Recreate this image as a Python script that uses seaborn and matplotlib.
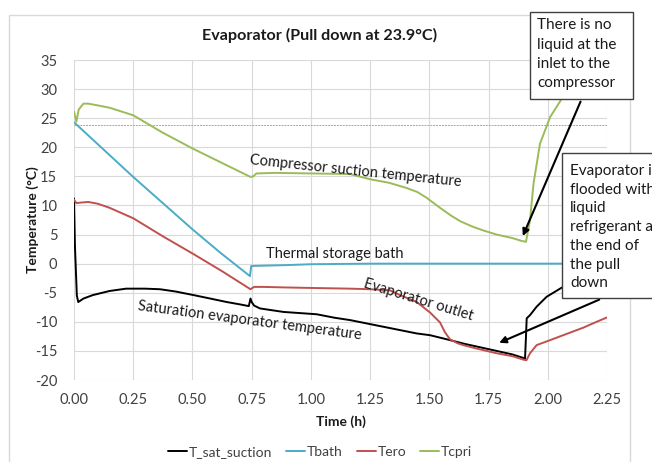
import numpy as np
import pandas as pd
import matplotlib
matplotlib.use("Agg")
import matplotlib.pyplot as plt
from matplotlib.patches import Rectangle
import seaborn as sns

# ---------------- data ----------------
t_sat = [0.0, 0.004, 0.012, 0.018, 0.04, 0.08, 0.15, 0.22, 0.30, 0.363, 0.43, 0.504,
         0.575, 0.645, 0.70, 0.738, 0.745, 0.75, 0.76, 0.785, 0.884, 1.024, 1.10, 1.165,
         1.306, 1.447, 1.503, 1.573, 1.65, 1.784, 1.85, 1.904, 1.908, 1.911, 1.925,
         1.953, 1.995, 2.06, 2.15, 2.25]
v_sat = [11.2, 3.0, -5.5, -6.6, -6.0, -5.4, -4.7, -4.3, -4.3, -4.4, -4.8, -5.4,
         -6.0, -6.6, -7.0, -7.3, -6.0, -6.6, -7.2, -7.7, -8.3, -8.7, -9.3, -9.7,
         -10.85, -12.0, -12.3, -13.0, -13.8, -15.0, -15.6, -16.3, -12.5, -9.4, -8.85,
         -7.4, -5.7, -4.1, -3.0, -2.0]

t_bath = [0.0, 0.125, 0.25, 0.375, 0.5, 0.62, 0.743, 0.748, 0.80, 0.90, 1.0, 1.25,
          1.5, 1.75, 2.0, 2.25]
v_bath = [24.3, 19.6, 14.9, 10.4, 5.9, 1.8, -2.15, -0.4, -0.35, -0.25, -0.1, 0.0,
          0.0, 0.0, 0.0, 0.0]

t_ero = [0.0, 0.01, 0.03, 0.06, 0.10, 0.15, 0.25, 0.375, 0.5, 0.625, 0.745, 0.76,
         0.80, 0.9, 1.03, 1.165, 1.25, 1.334, 1.376, 1.447, 1.503, 1.545, 1.566, 1.587,
         1.62, 1.643, 1.70, 1.784, 1.85, 1.897, 1.91, 1.925, 1.953, 2.0, 2.065, 2.15,
         2.206, 2.25]
v_ero = [11.0, 10.4, 10.5, 10.6, 10.3, 9.6, 7.8, 4.7, 1.75, -1.3, -4.4, -4.0,
         -4.0, -4.1, -4.2, -4.3, -4.4, -4.6, -5.4, -6.6, -8.4, -10.1, -11.8, -13.0,
         -13.7, -14.0, -14.6, -15.4, -15.9, -16.5, -16.6, -15.4, -14.0, -13.3, -12.3, -11.0,
         -10.0, -9.25]

t_cpri = [0.0, 0.01, 0.02, 0.04, 0.06, 0.10, 0.15, 0.25, 0.375, 0.5, 0.625, 0.70,
          0.745, 0.757, 0.77, 0.85, 1.0, 1.165, 1.25, 1.33, 1.404, 1.45, 1.489, 1.545,
          1.59, 1.63, 1.68, 1.728, 1.784, 1.85, 1.89, 1.908, 1.925, 1.94, 1.967, 2.01,
          2.06, 2.15, 2.25]
v_cpri = [26.1, 24.4, 26.5, 27.5, 27.5, 27.2, 26.8, 25.5, 22.5, 19.8, 17.3, 15.8,
          14.9, 15.0, 15.5, 15.6, 15.5, 15.4, 14.5, 13.9, 13.0, 12.3, 11.3, 9.6,
          8.3, 7.3, 6.4, 5.7, 5.0, 4.4, 3.9, 3.75, 7.5, 13.8, 20.6, 25.2,
          28.4, 31.5, 33.0]

series_names = ["T_sat_suction", "Tbath", "Tero", "Tcpri"]
series_colors = ["#000000", "#4BACC6", "#C0504D", "#9BBB59"]
pull_down_temp = 23.9

x_ticks = [0.0, 0.25, 0.5, 0.75, 1.0, 1.25, 1.5, 1.75, 2.0, 2.25]
y_ticks = [-20, -15, -10, -5, 0, 5, 10, 15, 20, 25, 30, 35]

frames = []
for name, t, v in zip(series_names, [t_sat, t_bath, t_ero, t_cpri],
                      [v_sat, v_bath, v_ero, v_cpri]):
    frames.append(pd.DataFrame({"Time (h)": t, "Temperature": v, "series": name}))
df = pd.concat(frames, ignore_index=True)

# ---------------- style ----------------
sns.set_theme(style="whitegrid")
FONT = ["Lato", "DejaVu Sans"]
plt.rcParams["font.family"] = FONT

W, H = 652, 462
fig = plt.figure(figsize=(W / 100, H / 100), dpi=100)
ax = fig.add_axes([74 / W, 1 - 380 / H, 533 / W, 320 / H])

sns.lineplot(data=df, x="Time (h)", y="Temperature", hue="series",
             hue_order=series_names, palette=series_colors, sort=False,
             estimator=None, linewidth=1.4, ax=ax)

ax.axhline(pull_down_temp, color="#A6A6A6", linestyle=(0, (2, 1)), linewidth=0.7, zorder=1)

ax.set_xlim(x_ticks[0], x_ticks[-1])
ax.set_ylim(y_ticks[0], y_ticks[-1])
ax.set_xticks(x_ticks)
ax.set_xticklabels([f"{v:.2f}" for v in x_ticks])
ax.set_yticks(y_ticks)
ax.set_yticklabels([str(v) for v in y_ticks])
ax.tick_params(axis="both", length=0, labelsize=10.5, colors="#404040")
ax.tick_params(axis="y", pad=12)
ax.tick_params(axis="x", pad=9)
for s in ax.spines.values():
    s.set_visible(False)
ax.grid(True, color="#D9D9D9", linewidth=0.8)
ax.set_xlabel("Time (h)", fontsize=10, fontweight="bold", labelpad=6, color="#1a1a1a")
ax.set_ylabel("Temperature (°C)", fontsize=10, fontweight="bold", color="#1a1a1a")
ax.yaxis.set_label_coords(-0.066, 0.5)

# legend at bottom
handles, labels = ax.get_legend_handles_labels()
ax.get_legend().remove()
fig.legend(handles, labels, loc="center", bbox_to_anchor=(320 / W, 1 - 452 / H),
           ncol=4, frameon=False, fontsize=10, handlelength=1.4, handletextpad=0.1,
           columnspacing=1.0, labelcolor="#404040")

# title
fig.text(320 / W, 1 - 35 / H, "Evaporator (Pull down at 23.9°C)", ha="center", va="center",
         fontsize=11.6, fontweight="bold", color="#1a1a1a")

# chart-area border
fig.patches.append(Rectangle((9 / W, -0.05), (630 - 9) / W, 1 - 15 / H + 0.05,
                             transform=fig.transFigure, fill=False,
                             edgecolor="#D9D9D9", linewidth=1.0, zorder=0))

# in-plot curve labels
lab_kw = dict(fontsize=10.5, color="#1a1a1a", ha="center", va="center")
ax.text(1.19, 15.9, "Compressor suction temperature", rotation=-6, **lab_kw)
ax.text(1.10, 1.7, "Thermal storage bath", **lab_kw)
ax.text(1.455, -6.2, "Evaporator outlet", rotation=-17, **lab_kw)
ax.text(0.74, -9.9, "Saturation evaporator temperature", rotation=-7.5, **lab_kw)

# annotation arrows
arrow_kw = dict(arrowstyle="-|>", color="black", lw=1.5, mutation_scale=10)
ax.annotate("", xy=(1.89, 4.3), xytext=(2.143, 28.3), arrowprops=arrow_kw, zorder=4)
ax.annotate("", xy=(1.784, -13.8), xytext=(2.228, -6.0), arrowprops=arrow_kw, zorder=4)

# annotation boxes
fig.patches.append(Rectangle((530 / W, 1 - 99 / H), (633 - 530) / W, (99 - 12) / H,
                             transform=fig.transFigure, facecolor="white",
                             edgecolor="#404040", linewidth=1.0, zorder=5))
fig.text(537 / W, 1 - 18 / H, "There is no\nliquid at the\ninlet to the\ncompressor",
         ha="left", va="top", fontsize=11, color="#1a1a1a", linespacing=1.5, zorder=6)
fig.patches.append(Rectangle((562 / W, 1 - 297.5 / H), 0.2, (297.5 - 153) / H,
                             transform=fig.transFigure, facecolor="white",
                             edgecolor="#404040", linewidth=1.0, zorder=5))
fig.text(570 / W, 1 - 164 / H,
         "Evaporator is\nflooded with\nliquid\nrefrigerant at\nthe end of\nthe pull\ndown",
         ha="left", va="top", fontsize=11, color="#1a1a1a", linespacing=1.43, zorder=6)

fig.savefig("out.png", dpi=100)
